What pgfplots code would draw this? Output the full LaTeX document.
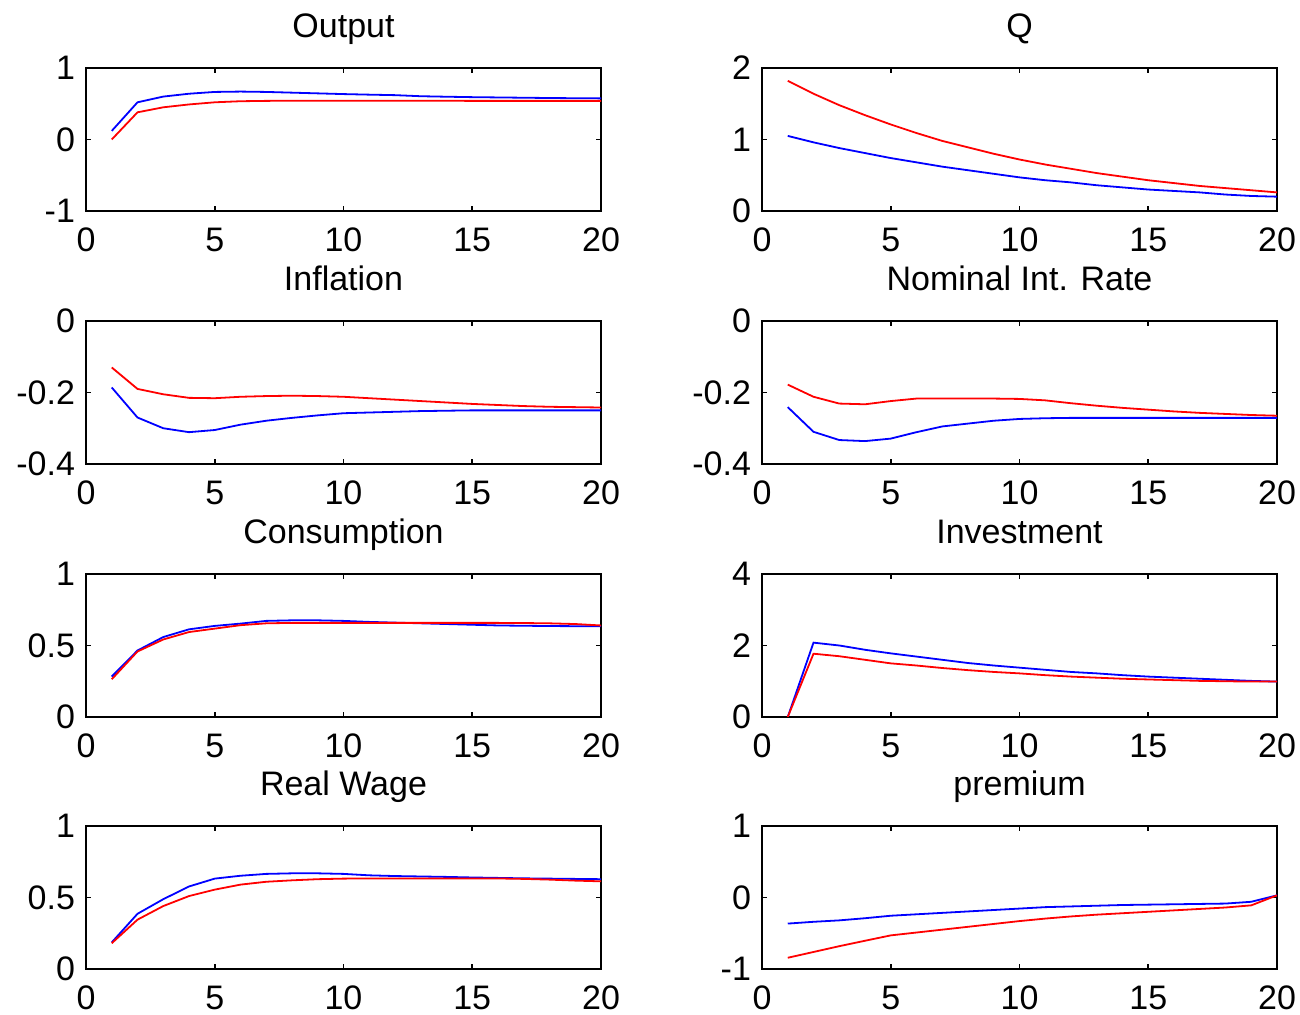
\documentclass[border=0pt]{standalone}
\usepackage{fontspec}
\setmainfont{Liberation Sans}
\usepackage{pgfplots}
\pgfplotsset{compat=1.18}
\definecolor{mblue}{RGB}{0,0,255}
\definecolor{mred}{RGB}{255,0,0}
\pgfplotsset{
  panel/.style={
    scale only axis, width=257.5pt, height=71.5pt,
    anchor=south west,
    xmin=0, xmax=20, xtick={0,5,10,15,20},
    axis line style={line width=1pt},
    every tick/.style={black, line width=0.8pt},
    major tick length=2.5pt,
    tick align=inside, tick pos=both,
    tick label style={font=\fontsize{17}{20}\selectfont},
    /pgf/number format/assume math mode=true,
    title style={font=\fontsize{17}{20}\selectfont, at={(0.5,1)}, anchor=base, yshift=9pt},
    xticklabel style={yshift=-5pt},
    yticklabel style={xshift=-2pt},
  },
  bl/.style={color=mblue, line width=0.9pt},
  rd/.style={color=mred, line width=0.9pt},
}
\begin{document}
\begin{tikzpicture}
\path[use as bounding box] (0,0) rectangle (650pt,507.5pt);
% Output
\begin{axis}[panel, at={(43pt,402pt)}, title={Output}, ymin=-1, ymax=1, ytick={-1,0,1}]
\addplot[bl] coordinates {(1,0.12)(2,0.52)(3,0.60)(4,0.64)(5,0.665)(6,0.67)(7,0.665)(8,0.655)(9,0.645)(10,0.635)(11,0.627)(12,0.62)(13,0.605)(14,0.598)(15,0.592)(16,0.588)(17,0.584)(18,0.58)(19,0.577)(20,0.575)};
\addplot[rd] coordinates {(1,0.0)(2,0.38)(3,0.45)(4,0.49)(5,0.52)(6,0.535)(7,0.54)(8,0.542)(9,0.542)(10,0.542)(11,0.542)(12,0.541)(13,0.541)(14,0.541)(15,0.54)(16,0.54)(17,0.54)(18,0.54)(19,0.54)(20,0.54)};
\end{axis}
% Q
\begin{axis}[panel, at={(381pt,402pt)}, title={Q}, ymin=0, ymax=2, ytick={0,1,2}]
\addplot[bl] coordinates {(1,1.05)(2,0.96)(3,0.88)(4,0.81)(5,0.74)(6,0.68)(7,0.62)(8,0.57)(9,0.52)(10,0.47)(11,0.43)(12,0.40)(13,0.36)(14,0.33)(15,0.30)(16,0.28)(17,0.26)(18,0.23)(19,0.21)(20,0.20)};
\addplot[rd] coordinates {(1,1.82)(2,1.64)(3,1.48)(4,1.34)(5,1.21)(6,1.09)(7,0.98)(8,0.89)(9,0.80)(10,0.72)(11,0.65)(12,0.59)(13,0.53)(14,0.48)(15,0.43)(16,0.39)(17,0.35)(18,0.32)(19,0.29)(20,0.26)};
\end{axis}
% Inflation
\begin{axis}[panel, at={(43pt,275.5pt)}, title={Inflation}, ymin=-0.4, ymax=0, ytick={-0.4,-0.2,0}]
\addplot[bl] coordinates {(1,-0.186)(2,-0.27)(3,-0.30)(4,-0.311)(5,-0.305)(6,-0.29)(7,-0.279)(8,-0.271)(9,-0.264)(10,-0.258)(11,-0.256)(12,-0.254)(13,-0.252)(14,-0.251)(15,-0.25)(16,-0.25)(17,-0.25)(18,-0.25)(19,-0.25)(20,-0.25)};
\addplot[rd] coordinates {(1,-0.13)(2,-0.19)(3,-0.205)(4,-0.215)(5,-0.216)(6,-0.212)(7,-0.21)(8,-0.209)(9,-0.21)(10,-0.212)(11,-0.216)(12,-0.22)(13,-0.224)(14,-0.228)(15,-0.232)(16,-0.235)(17,-0.238)(18,-0.24)(19,-0.241)(20,-0.242)};
\end{axis}
% Nominal Int. Rate
\begin{axis}[panel, at={(381pt,275.5pt)}, title={Nominal Int. Rate}, ymin=-0.4, ymax=0, ytick={-0.4,-0.2,0}]
\addplot[bl] coordinates {(1,-0.241)(2,-0.31)(3,-0.333)(4,-0.336)(5,-0.329)(6,-0.311)(7,-0.295)(8,-0.287)(9,-0.279)(10,-0.274)(11,-0.272)(12,-0.271)(13,-0.271)(14,-0.271)(15,-0.271)(16,-0.271)(17,-0.271)(18,-0.271)(19,-0.271)(20,-0.271)};
\addplot[rd] coordinates {(1,-0.178)(2,-0.212)(3,-0.231)(4,-0.233)(5,-0.224)(6,-0.217)(7,-0.217)(8,-0.217)(9,-0.217)(10,-0.218)(11,-0.222)(12,-0.23)(13,-0.237)(14,-0.243)(15,-0.248)(16,-0.253)(17,-0.257)(18,-0.26)(19,-0.263)(20,-0.265)};
\end{axis}
% Consumption
\begin{axis}[panel, at={(43pt,149pt)}, title={Consumption}, ymin=0, ymax=1, ytick={0,0.5,1}]
\addplot[bl] coordinates {(1,0.283)(2,0.465)(3,0.559)(4,0.613)(5,0.637)(6,0.653)(7,0.672)(8,0.676)(9,0.676)(10,0.672)(11,0.665)(12,0.66)(13,0.655)(14,0.65)(15,0.645)(16,0.64)(17,0.638)(18,0.636)(19,0.635)(20,0.634)};
\addplot[rd] coordinates {(1,0.264)(2,0.458)(3,0.542)(4,0.594)(5,0.618)(6,0.642)(7,0.655)(8,0.658)(9,0.658)(10,0.658)(11,0.658)(12,0.658)(13,0.658)(14,0.658)(15,0.658)(16,0.658)(17,0.657)(18,0.655)(19,0.65)(20,0.64)};
\end{axis}
% Investment
\begin{axis}[panel, at={(381pt,149pt)}, title={Investment}, ymin=0, ymax=4, ytick={0,2,4}]
\addplot[bl] coordinates {(1,0)(2,2.08)(3,2.0)(4,1.88)(5,1.78)(6,1.69)(7,1.60)(8,1.51)(9,1.44)(10,1.38)(11,1.32)(12,1.26)(13,1.22)(14,1.17)(15,1.13)(16,1.10)(17,1.07)(18,1.04)(19,1.01)(20,0.99)};
\addplot[rd] coordinates {(1,0)(2,1.77)(3,1.70)(4,1.60)(5,1.50)(6,1.44)(7,1.37)(8,1.31)(9,1.26)(10,1.22)(11,1.17)(12,1.13)(13,1.10)(14,1.07)(15,1.05)(16,1.03)(17,1.01)(18,1.0)(19,0.99)(20,0.99)};
\end{axis}
% Real Wage
\begin{axis}[panel, at={(43pt,23pt)}, title={Real Wage}, ymin=0, ymax=1, ytick={0,0.5,1}]
\addplot[bl] coordinates {(1,0.186)(2,0.386)(3,0.488)(4,0.577)(5,0.632)(6,0.652)(7,0.665)(8,0.669)(9,0.669)(10,0.665)(11,0.655)(12,0.65)(13,0.647)(14,0.644)(15,0.64)(16,0.637)(17,0.634)(18,0.632)(19,0.63)(20,0.628)};
\addplot[rd] coordinates {(1,0.18)(2,0.345)(3,0.44)(4,0.51)(5,0.555)(6,0.59)(7,0.61)(8,0.62)(9,0.628)(10,0.632)(11,0.633)(12,0.633)(13,0.633)(14,0.633)(15,0.633)(16,0.633)(17,0.63)(18,0.625)(19,0.618)(20,0.613)};
\end{axis}
% premium
\begin{axis}[panel, at={(381pt,23pt)}, title={premium}, ymin=-1, ymax=1, ytick={-1,0,1}]
\addplot[bl] coordinates {(1,-0.365)(2,-0.34)(3,-0.32)(4,-0.29)(5,-0.255)(6,-0.235)(7,-0.215)(8,-0.195)(9,-0.175)(10,-0.155)(11,-0.135)(12,-0.125)(13,-0.115)(14,-0.105)(15,-0.1)(16,-0.095)(17,-0.09)(18,-0.085)(19,-0.06)(20,0.03)};
\addplot[rd] coordinates {(1,-0.843)(2,-0.762)(3,-0.681)(4,-0.605)(5,-0.53)(6,-0.49)(7,-0.45)(8,-0.41)(9,-0.37)(10,-0.33)(11,-0.295)(12,-0.265)(13,-0.24)(14,-0.22)(15,-0.2)(16,-0.18)(17,-0.16)(18,-0.14)(19,-0.11)(20,0.03)};
\end{axis}
\end{tikzpicture}
\end{document}
